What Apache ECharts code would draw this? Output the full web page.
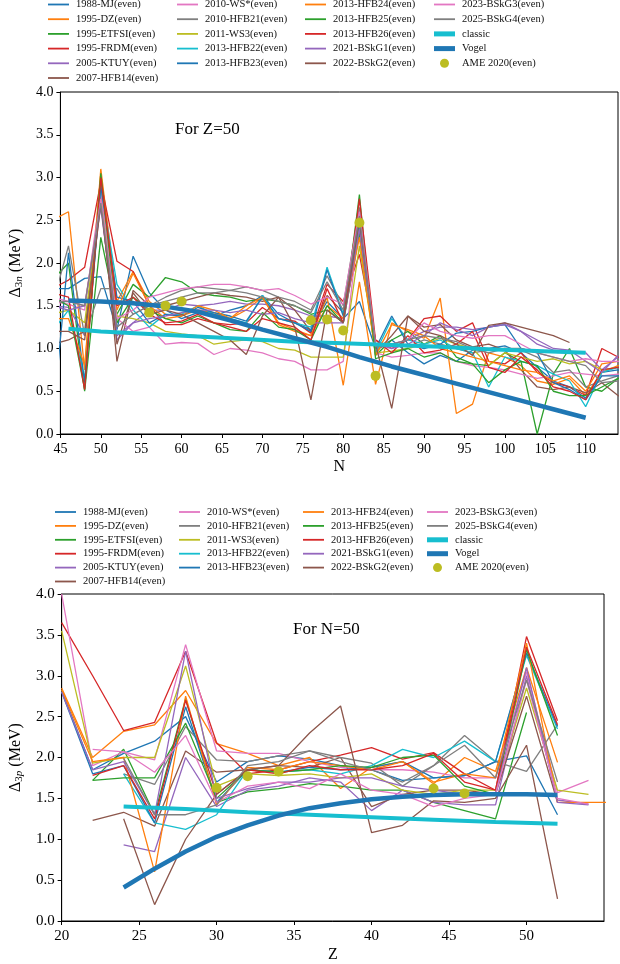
<!DOCTYPE html>
<html>
<head>
<meta charset="utf-8">
<script src="https://cdn.jsdelivr.net/npm/echarts@6/dist/echarts.min.js"></script>
<style>
  html, body { margin: 0; padding: 0; background: #fff; }
  #chart { width: 620px; height: 964px; }
</style>
</head>
<body>
<div id="chart"></div>
<script>
// top panel: Delta_3n for Z=50, x = N ; bottom panel: Delta_3p for N=50, x = Z
const N_even = [44,46,48,50,52,54,56,58,60,62,64,66,68,70,72,74,76,78,80,82,84,86,88,90,92,94,96,98,100,102,104,106,108,110,112,114,116];
const Z_even = [20,22,24,26,28,30,32,34,36,38,40,42,44,46,48,50,52,54,56];

const modelNames = ['1988-MJ(even)','1995-DZ(even)','1995-ETFSI(even)','1995-FRDM(even)','2005-KTUY(even)','2007-HFB14(even)',
  '2010-WS*(even)','2010-HFB21(even)','2011-WS3(even)','2013-HFB22(even)','2013-HFB23(even)','2013-HFB24(even)',
  '2013-HFB25(even)','2013-HFB26(even)','2021-BSkG1(even)','2022-BSkG2(even)','2023-BSkG3(even)','2025-BSkG4(even)'];

// matplotlib default cycle
const tab10 = ['#1f77b4','#ff7f0e','#2ca02c','#d62728','#9467bd','#8c564b','#e377c2','#7f7f7f','#bcbd22','#17becf'];

// ---- Z=50 chain (vs N) ----
const d3n_MJ88    = [1.70,1.70,1.82,1.84,1.22,2.08,1.65,1.45,1.35,1.42,1.38,1.45,1.50,1.62,1.40,1.30,1.22,1.55,1.35,1.55,1.00,1.10,0.95,0.82,0.92,0.85,0.98,1.00,1.03,0.95,0.78,0.62,0.55,0.42,0.72,0.75,0.70];
const d3n_DZ95    = [2.50,2.60,0.75,3.10,1.55,1.90,1.55,1.40,1.38,1.45,1.42,1.35,1.45,1.60,1.28,1.20,1.15,1.60,0.57,1.78,0.58,1.30,1.20,1.12,1.59,0.24,0.35,0.95,0.90,0.80,0.62,0.58,0.65,0.45,0.72,0.80,0.85];
const d3n_ETFSI95 = [1.80,2.00,0.50,2.30,1.40,1.75,1.60,1.83,1.78,1.65,1.62,1.60,1.55,1.58,1.55,1.50,1.40,1.45,1.30,2.35,0.92,1.10,1.20,1.05,1.15,0.90,0.82,0.80,0.95,0.85,0.00,0.70,1.00,0.55,0.50,0.65,0.70];
const d3n_FRDM95  = [1.70,1.80,1.95,2.95,2.02,1.90,1.50,1.28,1.28,1.35,1.30,1.28,1.30,1.48,1.35,1.32,1.18,1.75,1.55,2.10,1.10,1.00,1.10,1.35,1.38,1.20,1.30,0.85,0.82,0.95,0.72,0.60,0.55,0.45,1.00,0.90,0.85];
const d3n_KTUY05  = [1.50,1.48,1.15,2.70,1.10,1.30,1.45,1.45,1.52,1.50,1.52,1.55,1.52,1.52,1.50,1.45,1.38,1.38,1.35,2.60,1.00,1.05,1.10,1.20,1.25,1.25,1.22,1.25,1.30,1.20,1.05,0.98,0.95,0.95,0.75,0.90,null];
const d3n_HFB14   = [1.05,1.10,1.20,2.80,0.85,1.68,1.50,1.50,1.55,1.60,1.65,1.62,1.60,1.55,1.60,1.45,1.20,1.62,1.42,2.55,0.95,1.15,1.38,1.25,1.28,1.10,1.02,1.05,0.98,0.75,0.55,0.52,0.55,0.48,0.60,0.45,0.35];
const d3n_WSstar  = [1.55,1.52,1.45,2.85,1.35,1.20,1.25,1.05,1.07,1.06,0.93,1.00,0.98,0.95,0.88,0.85,0.75,0.75,0.85,2.50,0.95,0.90,0.92,0.95,0.95,0.85,0.80,0.78,0.75,0.70,0.65,0.68,0.72,0.70,0.68,0.70,0.70];
const d3n_HFB21   = [1.50,2.20,1.15,1.70,1.70,1.40,1.50,1.60,1.68,1.72,1.70,1.68,1.72,1.68,1.60,1.55,1.45,1.85,1.50,2.65,1.00,1.05,1.02,1.10,1.05,1.00,0.95,0.98,1.00,0.98,0.90,0.72,0.75,0.55,0.62,0.68,0.70];
const d3n_WS3     = [1.40,1.45,1.30,2.75,1.38,1.35,1.30,1.20,1.17,1.15,1.05,1.08,1.10,1.08,1.00,0.98,0.90,0.90,0.90,2.20,0.95,0.97,1.00,1.05,1.12,1.05,1.00,0.80,0.95,0.90,0.85,0.88,0.82,0.85,0.75,0.78,0.80];
const d3n_HFB22   = [1.20,1.45,0.65,2.90,1.75,1.45,1.25,1.40,1.40,1.50,1.40,1.35,1.30,1.62,1.35,1.30,1.25,1.95,1.40,2.45,0.95,1.35,1.10,1.05,1.10,1.00,0.95,0.55,0.90,0.85,0.80,0.70,0.62,0.32,0.72,0.78,0.80];
const d3n_HFB23   = [0.10,2.12,0.60,2.90,1.60,1.55,1.30,1.40,1.38,1.48,1.42,1.38,1.32,1.60,1.35,1.30,1.20,1.92,1.38,2.50,1.00,1.38,1.05,1.00,1.05,1.18,1.20,1.25,1.28,1.00,0.95,0.60,0.52,0.40,0.68,0.68,0.70];
const d3n_HFB24   = [1.35,1.35,0.80,3.05,1.45,1.88,1.50,1.35,1.38,1.50,1.45,1.35,1.50,1.60,1.30,1.22,1.15,1.50,1.35,2.30,0.92,1.28,1.22,1.15,1.00,0.95,0.90,0.85,0.80,0.75,0.72,0.62,0.68,0.50,0.82,0.85,0.88];
const d3n_HFB25   = [1.60,1.50,0.52,3.05,1.30,1.60,1.45,1.35,1.30,1.38,1.30,1.22,1.20,1.42,1.25,1.22,1.10,1.50,1.30,2.80,0.88,0.95,1.00,0.90,0.95,0.85,0.82,0.60,0.75,0.85,0.80,0.50,0.45,0.45,0.55,0.65,0.70];
const d3n_HFB26   = [1.65,1.60,0.52,3.00,1.50,1.60,1.40,1.30,1.32,1.40,1.30,1.25,1.20,1.35,1.30,1.25,1.10,1.70,1.30,2.75,1.10,0.95,1.15,0.95,0.98,1.05,1.20,0.78,0.72,0.90,0.75,0.55,0.50,0.40,0.75,0.78,0.80];
const d3n_BSkG1   = [1.50,1.45,1.50,2.65,1.15,1.30,1.35,1.38,1.42,1.45,1.45,1.42,1.45,1.40,1.42,1.35,1.30,1.30,1.30,2.40,1.05,1.00,1.05,1.15,1.30,1.22,1.15,1.25,1.28,1.20,1.10,1.00,0.98,0.85,0.72,0.92,null];
const d3n_BSkG2   = [1.20,1.20,1.10,2.70,1.05,1.65,1.40,1.45,1.40,1.30,1.20,1.10,0.93,1.38,1.60,1.25,0.40,1.45,1.30,2.50,1.05,0.30,1.38,1.20,1.15,1.05,0.92,1.27,1.30,1.25,1.20,1.15,1.07,null,null,null,null];
const d3n_BSkG3   = [1.60,1.55,1.50,2.75,1.35,1.45,1.60,1.65,1.70,1.72,1.75,1.75,1.72,1.68,1.70,1.62,1.52,1.60,1.52,2.60,1.05,1.05,1.10,1.30,1.20,1.15,1.12,1.15,1.15,1.05,0.95,0.90,0.85,0.88,0.85,0.85,0.85];
const d3n_BSkG4   = [1.55,1.55,1.50,2.70,1.25,1.40,1.50,1.55,1.60,1.65,1.65,1.68,1.65,1.60,1.55,1.50,1.42,1.78,1.45,2.55,1.02,1.05,1.10,1.15,1.12,1.08,1.00,0.95,1.00,1.00,0.95,0.90,0.85,0.80,0.60,0.62,0.65];

const classicN = [46,50,56,62,68,74,80,86,92,98,104,110];
const classic3n = [1.23,1.20,1.17,1.14,1.11,1.08,1.06,1.04,1.02,0.99,0.97,0.95];
const vogelN = [46,50,54,58,62,66,70,74,78,82,86,90,94,98,102,106,110];
const vogel3n = [1.56,1.55,1.53,1.49,1.43,1.33,1.22,1.12,1.02,0.90,0.79,0.69,0.59,0.49,0.39,0.29,0.19];
const ameN = [56,58,60,76,78,80,82,84];
const ame3n = [1.42,1.50,1.55,1.33,1.34,1.21,2.47,0.68];

// ---- N=50 chain (vs Z) ----
const d3p_MJ88    = [2.82,1.85,2.05,2.20,2.50,1.70,1.95,2.02,1.98,1.90,1.85,1.72,1.75,1.78,1.95,2.02,1.30,null,null];
const d3p_DZ95    = [2.85,2.00,2.32,2.40,2.82,2.17,2.05,1.90,2.00,1.62,1.88,1.95,1.68,2.00,1.83,3.10,1.94,null,null];
const d3p_ETFSI95 = [null,1.72,2.10,1.30,2.72,1.45,1.58,1.62,1.68,1.65,1.60,1.60,1.45,1.35,1.25,2.55,null,null,null];
const d3p_FRDM95  = [3.65,3.00,2.33,2.43,3.30,2.18,1.80,1.85,1.95,2.03,2.12,1.98,2.06,1.80,1.60,3.48,2.45,null,null];
const d3p_KTUY05  = [null,null,0.93,0.85,2.00,1.40,1.60,1.65,1.75,1.70,1.35,1.60,1.45,1.42,1.42,3.00,1.48,1.43,null];
const d3p_HFB14   = [null,1.23,1.33,1.16,2.08,1.82,1.85,1.90,1.88,2.00,1.40,1.55,1.60,1.60,1.55,2.75,1.45,null,null];
const d3p_WSstar  = [4.00,1.90,2.07,1.97,3.38,2.08,2.05,2.05,1.95,1.88,1.85,1.85,1.82,1.75,1.75,3.05,1.57,1.72,null];
const d3p_HFB21   = [null,null,1.80,1.67,2.38,1.97,1.95,2.02,2.08,2.00,1.93,1.65,1.90,2.27,1.95,1.83,2.40,null,null];
const d3p_WS3     = [3.55,1.93,2.00,2.00,3.12,1.65,1.80,1.78,1.80,1.75,1.80,1.60,1.55,1.60,1.60,2.85,1.60,1.55,null];
const d3p_HFB22   = [null,null,1.80,1.20,1.12,1.30,1.85,1.82,1.85,1.80,1.90,2.10,2.00,2.20,1.95,3.25,2.35,null,null];
const d3p_HFB23   = [2.80,1.80,1.90,1.20,2.62,1.45,1.85,1.82,1.88,1.85,1.88,1.95,1.75,1.78,1.95,3.28,2.38,null,null];
const d3p_HFB24   = [2.83,1.95,2.00,0.60,2.75,1.42,1.88,1.85,1.95,1.90,1.85,1.95,1.70,1.80,1.75,3.40,1.45,1.45,1.45];
const d3p_HFB25   = [null,1.72,1.75,1.75,2.42,1.50,1.85,1.82,1.85,1.90,1.88,2.00,2.03,1.65,1.55,3.32,2.27,null,null];
const d3p_HFB26   = [null,1.78,1.90,1.25,2.70,1.55,1.85,1.80,1.90,1.85,1.85,1.90,2.05,1.70,1.60,3.35,2.40,null,null];
const d3p_BSkG1   = [2.80,1.85,1.95,1.30,3.30,1.50,1.62,1.70,1.70,1.75,1.75,1.65,1.60,1.55,1.55,3.10,1.45,1.42,null];
const d3p_BSkG2   = [null,null,1.25,0.20,1.00,1.55,1.85,1.90,2.30,2.63,1.08,1.17,1.47,1.45,1.50,2.15,0.27,null,null];
const d3p_BSkG3   = [null,2.10,2.07,1.82,2.27,1.45,1.65,1.70,1.62,1.80,1.60,1.55,1.40,1.50,1.55,2.95,1.50,1.43,null];
const d3p_BSkG4   = [null,null,1.99,1.30,1.30,1.42,1.90,1.95,2.08,1.95,1.85,1.70,1.90,2.15,1.75,2.95,1.70,null,null];

const classicZ = [24,28,32,36,40,44,48,52];
const classic3p = [1.40,1.37,1.33,1.30,1.27,1.24,1.21,1.19];
const vogelZ = [24,26,28,30,32,34,36,38,40,42,44,46,48,50,52];
const vogel3p = [0.41,0.64,0.85,1.03,1.17,1.29,1.38,1.44,1.49,1.52,1.54,1.55,1.55,1.55,1.54];
const ameZ = [30,32,34,44,46];
const ame3p = [1.63,1.77,1.83,1.62,1.56];

const top3n = [d3n_MJ88,d3n_DZ95,d3n_ETFSI95,d3n_FRDM95,d3n_KTUY05,d3n_HFB14,d3n_WSstar,d3n_HFB21,d3n_WS3,
  d3n_HFB22,d3n_HFB23,d3n_HFB24,d3n_HFB25,d3n_HFB26,d3n_BSkG1,d3n_BSkG2,d3n_BSkG3,d3n_BSkG4];
const bot3p = [d3p_MJ88,d3p_DZ95,d3p_ETFSI95,d3p_FRDM95,d3p_KTUY05,d3p_HFB14,d3p_WSstar,d3p_HFB21,d3p_WS3,
  d3p_HFB22,d3p_HFB23,d3p_HFB24,d3p_HFB25,d3p_HFB26,d3p_BSkG1,d3p_BSkG2,d3p_BSkG3,d3p_BSkG4];

const FONT = '"Liberation Serif", "DejaVu Serif", serif';

function pairs(xs, ys) {
  const out = [];
  xs.forEach((x, i) => { if (ys[i] !== null && ys[i] !== undefined) out.push([x, ys[i]]); });
  return out;
}

function lineS(name, xs, ys, color, width, gi) {
  return {
    name: name, type: 'line', xAxisIndex: gi, yAxisIndex: gi,
    data: pairs(xs, ys), symbol: 'none', clip: true,
    lineStyle: { color: color, width: width }, itemStyle: { color: color },
    emphasis: { disabled: true }
  };
}

const series = [];
[[N_even, top3n, 0], [Z_even, bot3p, 1]].forEach(([xs, sets, gi]) => {
  sets.forEach((ys, k) => series.push(lineS(modelNames[k], xs, ys, tab10[k % 10], 1.3, gi)));
});
series.push(lineS('classic', classicN, classic3n, '#17becf', 4, 0));
series.push(lineS('classic', classicZ, classic3p, '#17becf', 4, 1));
series.push(lineS('Vogel', vogelN, vogel3n, '#1f77b4', 4.5, 0));
series.push(lineS('Vogel', vogelZ, vogel3p, '#1f77b4', 4.5, 1));
series.push({ name: 'AME 2020(even)', type: 'scatter', xAxisIndex: 0, yAxisIndex: 0, symbolSize: 10,
  data: pairs(ameN, ame3n), itemStyle: { color: '#bcbd22', opacity: 1 }, z: 5 });
series.push({ name: 'AME 2020(even)', type: 'scatter', xAxisIndex: 1, yAxisIndex: 1, symbolSize: 10,
  data: pairs(ameZ, ame3p), itemStyle: { color: '#bcbd22', opacity: 1 }, z: 5 });

// legend icons: thin bar for model lines, thick bar for classic / Vogel, dot for AME
const THIN = 'path://M0,0L21,0L21,1.8L0,1.8Z';
const THICK = 'path://M0,0L21,0L21,5L0,5Z';
function legendIcon(name) {
  if (name === 'AME 2020(even)') return 'circle';
  if (name === 'classic' || name === 'Vogel') return THICK;
  return THIN;
}

const legendCols = [
  modelNames.slice(0, 6),
  modelNames.slice(6, 11),
  modelNames.slice(11, 16),
  modelNames.slice(16, 18).concat(['classic', 'Vogel', 'AME 2020(even)'])
];

function legends(lefts, top, gap) {
  return legendCols.map((names, c) => ({
    data: names.map(n => ({ name: n, icon: legendIcon(n) })),
    orient: 'vertical', left: lefts[c], top: top, padding: 0,
    itemWidth: 21, itemHeight: 9, itemGap: gap, selectedMode: false, symbolKeepAspect: true,
    textStyle: { fontFamily: FONT, fontSize: 10.5, color: '#111', padding: [0, 0, 0, 2] }
  }));
}

function xAx(gi, min, max, fs, nameGap) {
  return {
    type: 'value', gridIndex: gi, min: min, max: max, interval: 5,
    name: gi === 0 ? 'N' : 'Z', nameLocation: 'middle', nameGap: nameGap,
    nameTextStyle: { fontFamily: FONT, fontSize: 16, color: '#000' },
    axisLine: { show: true, onZero: false, lineStyle: { color: '#000', width: 1 } },
    axisTick: { show: true, length: 4, lineStyle: { color: '#000' } },
    splitLine: { show: false },
    axisLabel: { fontFamily: FONT, fontSize: fs, color: '#000', margin: 8, showMaxLabel: false,
      formatter: v => (v % 5 === 0 ? String(v) : '') }
  };
}

function yAx(gi, sub, fs, nameGap) {
  return {
    type: 'value', gridIndex: gi, min: 0, max: 4, interval: 0.5,
    name: '{d|Δ}{s|3}{i|' + sub + '}{t| (MeV)}', nameLocation: 'middle', nameGap: nameGap, nameRotate: 90,
    nameTextStyle: {
      fontFamily: FONT, fontSize: 16, color: '#000',
      rich: {
        d: { fontFamily: FONT, fontSize: 16, color: '#000' },
        s: { fontFamily: FONT, fontSize: 11, color: '#000', padding: [7, 0, 0, 0] },
        i: { fontFamily: FONT, fontSize: 11, fontStyle: 'italic', color: '#000', padding: [7, 0, 0, 0] },
        t: { fontFamily: FONT, fontSize: 16, color: '#000' }
      }
    },
    axisLine: { show: true, lineStyle: { color: '#000', width: 1 } },
    axisTick: { show: true, length: 4, lineStyle: { color: '#000' } },
    splitLine: { show: false },
    axisLabel: { fontFamily: FONT, fontSize: fs, color: '#000', margin: 7, formatter: v => v.toFixed(1) }
  };
}

const chart = echarts.init(document.getElementById('chart'), null, { renderer: 'canvas' });
chart.setOption({
  backgroundColor: '#ffffff',
  animation: false,
  legend: legends([48, 177, 305, 434], -1, 3.7).concat(legends([55, 179, 303, 427], 506.5, 2.9)),
  grid: [
    { left: 52, right: 2, top: 92, height: 342, show: true, borderColor: '#000', borderWidth: 1, containLabel: false },
    { left: 59, right: 16, top: 594, height: 330, show: true, borderColor: '#000', borderWidth: 1, containLabel: false }
  ],
  xAxis: [xAx(0, 45, 114, 14, 25), xAx(1, 20, 55, 15, 26)],
  yAxis: [yAx(0, 'n', 14, 31), yAx(1, 'p', 15, 32)],
  graphic: [
    { type: 'text', left: 175, top: 121, style: { text: 'For Z=50', font: '17px ' + FONT, fill: '#000' } },
    { type: 'text', left: 293, top: 621, style: { text: 'For N=50', font: '17px ' + FONT, fill: '#000' } }
  ],
  series: series
});
</script>
</body>
</html>
